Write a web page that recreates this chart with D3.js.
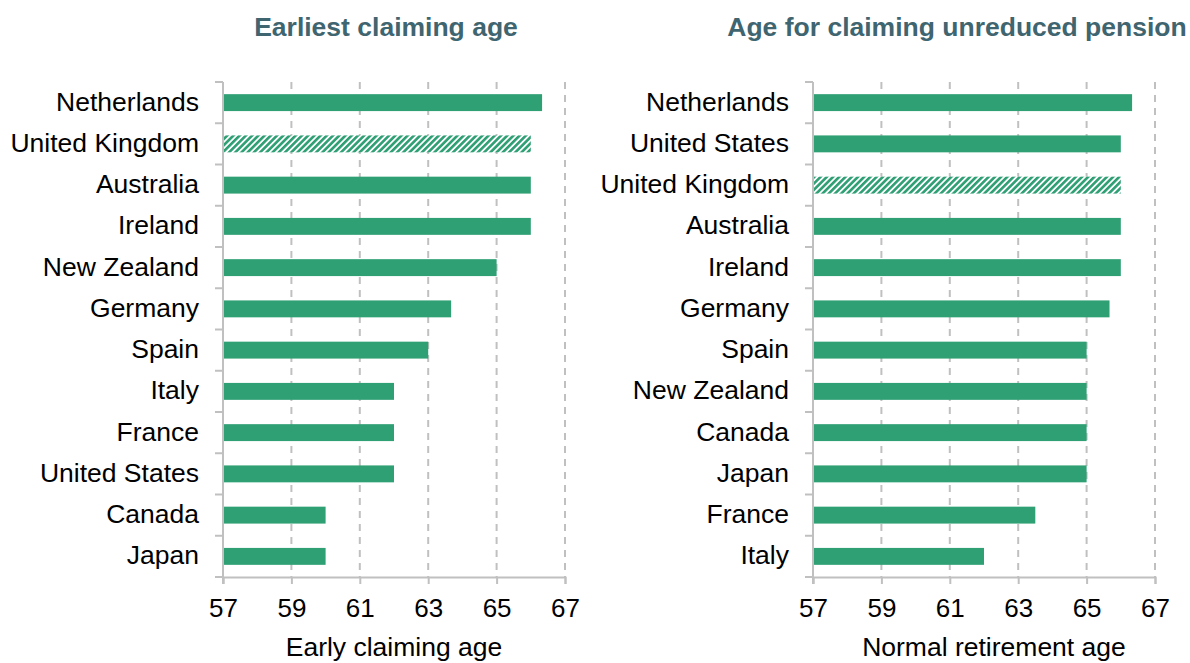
<!DOCTYPE html>
<html>
<head>
<meta charset="utf-8">
<script src="https://cdn.jsdelivr.net/npm/d3@7"></script>
<style>
  body { margin: 0; background: #fff; }
  text { font-family: "Liberation Sans", Arial, sans-serif; }
</style>
</head>
<body>
<script>
// left panel: earliest claiming age
var earlyCountries = ["Netherlands", "United Kingdom", "Australia", "Ireland", "New Zealand", "Germany",
   "Spain", "Italy", "France", "United States", "Canada", "Japan"];
var earlyAges = [66.33, 66, 66, 66, 65, 63.67, 63, 62, 62, 62, 60, 60];

// right panel: age for unreduced pension
var normalCountries = ["Netherlands", "United States", "United Kingdom", "Australia", "Ireland", "Germany",
   "Spain", "New Zealand", "Canada", "Japan", "France", "Italy"];
var normalAges = [66.33, 66, 66, 66, 66, 65.67, 65, 65, 65, 65, 63.5, 62];

var xTicks = [57, 59, 61, 63, 65, 67];
var hatched = "United Kingdom";

var barColor = "#2f9f74";
var gridColor = "#c0c0c0";
var titleColor = "#3f6570";

var svg = d3.select("body").append("svg")
   .attr("width", 1190)
   .attr("height", 663);

var pat = svg.append("defs").append("pattern")
   .attr("id", "hatch")
   .attr("patternUnits", "userSpaceOnUse")
   .attr("width", 4.4)
   .attr("height", 4.4)
   .attr("patternTransform", "rotate(45)");
pat.append("rect").attr("width", 4.4).attr("height", 4.4).attr("fill", "#fff");
pat.append("rect").attr("width", 2.6).attr("height", 4.4).attr("fill", barColor);

function drawPanel(cats, vals, x0, title, titleX, xTitle, xTitleX) {
   var x = d3.scaleLinear().domain([57, 67]).range([x0, x0 + 342]);
   var y = d3.scaleBand().domain(cats).range([82, 577]).paddingInner(0.59).paddingOuter(0.295);
   var g = svg.append("g");

   // title
   g.append("text")
      .attr("x", titleX)
      .attr("y", 36)
      .attr("text-anchor", "middle")
      .style("font-size", "26.5px")
      .style("font-weight", "bold")
      .style("fill", titleColor)
      .text(title);

   // dashed gridlines
   g.selectAll(".grid")
      .data(xTicks.slice(1))
      .enter().append("line")
      .attr("x1", d => x(d)).attr("x2", d => x(d))
      .attr("y1", 82).attr("y2", 577)
      .attr("stroke", gridColor)
      .attr("stroke-width", 2)
      .attr("stroke-dasharray", "7,6");

   // bars
   g.selectAll(".bar")
      .data(cats)
      .enter().append("rect")
      .attr("x", x(57))
      .attr("y", d => y(d))
      .attr("width", (d, i) => x(vals[i]) - x(57))
      .attr("height", y.bandwidth())
      .attr("fill", d => d === hatched ? "url(#hatch)" : barColor);

   // y axis with ticks at category boundaries
   var step = y.step();
   var bounds = d3.range(cats.length + 1).map(i => 82 + i * step);
   g.append("line")
      .attr("x1", x(57)).attr("x2", x(57))
      .attr("y1", 82).attr("y2", 584)
      .attr("stroke", gridColor).attr("stroke-width", 2);
   g.selectAll(".ytick")
      .data(bounds)
      .enter().append("line")
      .attr("x1", x(57) - 8).attr("x2", x(57))
      .attr("y1", d => d).attr("y2", d => d)
      .attr("stroke", gridColor).attr("stroke-width", 2);
   g.selectAll(".ylab")
      .data(cats)
      .enter().append("text")
      .attr("x", x(57) - 24)
      .attr("y", d => y(d) + y.bandwidth() / 2)
      .attr("dy", "0.3em")
      .attr("text-anchor", "end")
      .style("font-size", "26.5px")
      .style("fill", "#000")
      .text(d => d);

   // x axis
   var xAxis = d3.axisBottom(x).tickValues(xTicks).tickSize(7).tickPadding(15);
   var ax = g.append("g")
      .attr("transform", "translate(0,577)")
      .call(xAxis);
   ax.select(".domain").attr("stroke", gridColor).attr("stroke-width", 2);
   ax.selectAll(".tick line").attr("stroke", gridColor).attr("stroke-width", 2);
   ax.selectAll(".tick text")
      .style("font-size", "26px")
      .style("font-family", "'Liberation Sans', Arial, sans-serif")
      .style("fill", "#000");

   g.append("text")
      .attr("x", xTitleX)
      .attr("y", 656)
      .attr("text-anchor", "middle")
      .style("font-size", "26.5px")
      .style("fill", "#000")
      .text(xTitle);
}

drawPanel(earlyCountries, earlyAges, 223, "Earliest claiming age", 386, "Early claiming age", 394);
drawPanel(normalCountries, normalAges, 813, "Age for claiming unreduced pension", 957, "Normal retirement age", 994);
</script>
</body>
</html>
